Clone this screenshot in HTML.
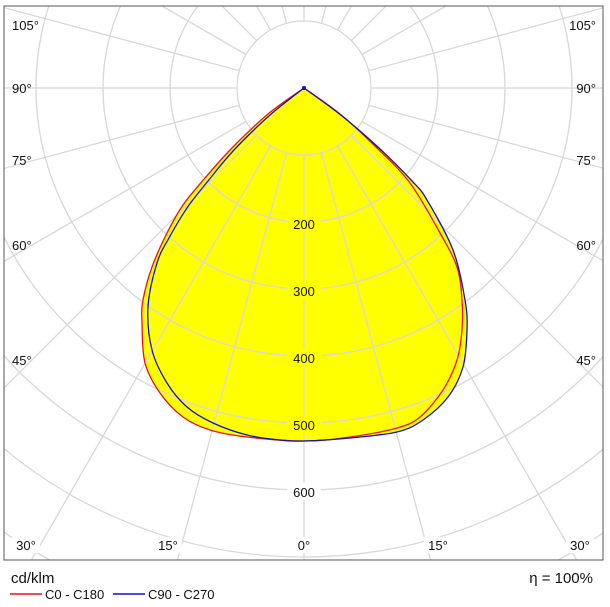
<!DOCTYPE html>
<html><head><meta charset="utf-8"><style>
html,body{margin:0;padding:0;background:#fff;width:610px;height:607px;overflow:hidden}
svg{display:block;font-family:"Liberation Sans","DejaVu Sans",sans-serif}
</style></head><body>
<svg width="610" height="607" viewBox="0 0 610 607" xmlns="http://www.w3.org/2000/svg">
<defs><clipPath id="c"><rect x="4" y="6" width="599" height="554"/></clipPath></defs>
<g clip-path="url(#c)">
<path id="fill" fill="#ffff00" stroke="none"/>
<path id="fill2" fill="#ffff00" stroke="none"/>
<g stroke="#d8d8d8" stroke-width="1.3" fill="none" id="grid"></g>
</g>
<path id="red" fill="none" stroke="#ee1111" stroke-width="1.3"/>
<path id="blue" fill="none" stroke="#1111cc" stroke-width="1.3"/>
<circle cx="304" cy="88" r="2" fill="#1111cc"/>
<g font-size="13" fill="#111">
<g id="vl"></g>
<text x="12" y="30">105°</text><text x="12" y="93">90°</text><text x="12" y="165">75°</text><text x="12" y="250">60°</text><text x="12" y="365">45°</text>
<text x="596" y="30" text-anchor="end">105°</text><text x="596" y="93" text-anchor="end">90°</text><text x="596" y="165" text-anchor="end">75°</text><text x="596" y="250" text-anchor="end">60°</text><text x="596" y="365" text-anchor="end">45°</text>
</g>
<rect x="4" y="6" width="599" height="554" fill="none" stroke="#555" stroke-width="1"/>
<text x="11" y="583" font-size="15" fill="#111">cd/klm</text>
<line x1="10" y1="594" x2="42" y2="594" stroke="#ee1111" stroke-width="1.5"/>
<text x="45" y="599" font-size="13" fill="#111">C0 - C180</text>
<line x1="113" y1="594" x2="145" y2="594" stroke="#1111cc" stroke-width="1.5"/>
<text x="148" y="599" font-size="13" fill="#111">C90 - C270</text>
<text x="593" y="583" font-size="15" fill="#111" text-anchor="end">η = 100%</text>
</svg>
<script>
var ns="http://www.w3.org/2000/svg",g=document.getElementById("grid"),cx=304,cy=88;
function el(p,t,a){var e=document.createElementNS(ns,t);for(var k in a)e.setAttribute(k,a[k]);p.appendChild(e);return e;}
for(var k=1;k<=9;k++)el(g,"circle",{cx:cx,cy:cy,r:67*k});
for(var a=-180;a<180;a+=15){var r=a*Math.PI/180,s=Math.sin(r),c=Math.cos(r);
el(g,"line",{x1:cx+67*s,y1:cy+67*c,x2:cx+900*s,y2:cy+900*c});}
var vl=document.getElementById("vl");
[[200,224,"#ffff00"],[300,291,"#ffff00"],[400,358,"#ffff00"],[500,425,"#ffff00"],[600,492,"#fff"]].forEach(function(v){
el(vl,"rect",{x:287,y:v[1]-9,width:34,height:17,fill:v[2]});
var t=el(vl,"text",{x:304,y:v[1]+5,"text-anchor":"middle"});t.textContent=v[0];});
[[26,"30°"],[168,"15°"],[304,"0°"],[438,"15°"],[580,"30°"]].forEach(function(v){
el(vl,"rect",{x:v[0]-14,y:537,width:28,height:16,fill:"#fff"});
var t=el(vl,"text",{x:v[0],y:550,"text-anchor":"middle"});t.textContent=v[1];});
function cr(p){var d="M"+p[0][0]+","+p[0][1];for(var i=0;i<p.length-1;i++){var p0=p[Math.max(i-1,0)],p1=p[i],p2=p[i+1],p3=p[Math.min(i+2,p.length-1)];
d+=" C"+(p1[0]+(p2[0]-p0[0])/6)+","+(p1[1]+(p2[1]-p0[1])/6)+" "+(p2[0]-(p3[0]-p1[0])/6)+","+(p2[1]-(p3[1]-p1[1])/6)+" "+p2[0]+","+p2[1];}return d;}
var R=[[304,88],[268,114],[232,148],[205,178],[183,205],[167,233],[152,267],[143,300],[142,323],[145,363],[160,393],[183,417],[210,430],[247,437],[304,441],[350,437],[397,428],[420,417],[443,390],[457,360],[462,330],[462,300],[457,267],[440,233],[410,183],[377,148],[340,114],[304,88]];
var B=[[304,88],[270,115],[234,150],[208,181],[187,208],[169,238],[157,263],[148,307],[152,350],[167,383],[187,407],[213,423],[247,435],[280,440],[304,441],[350,438],[397,432],[423,420],[448,397],[463,367],[467,330],[465,300],[453,250],[427,200],[412,181],[379,148],[342,116],[304,88]];
var dr=cr(R),db=cr(B);
document.getElementById("fill").setAttribute("d",dr+"Z");
document.getElementById("fill2").setAttribute("d",db+"Z");
document.getElementById("red").setAttribute("d",dr);
document.getElementById("blue").setAttribute("d",db);
</script>
</body></html>
